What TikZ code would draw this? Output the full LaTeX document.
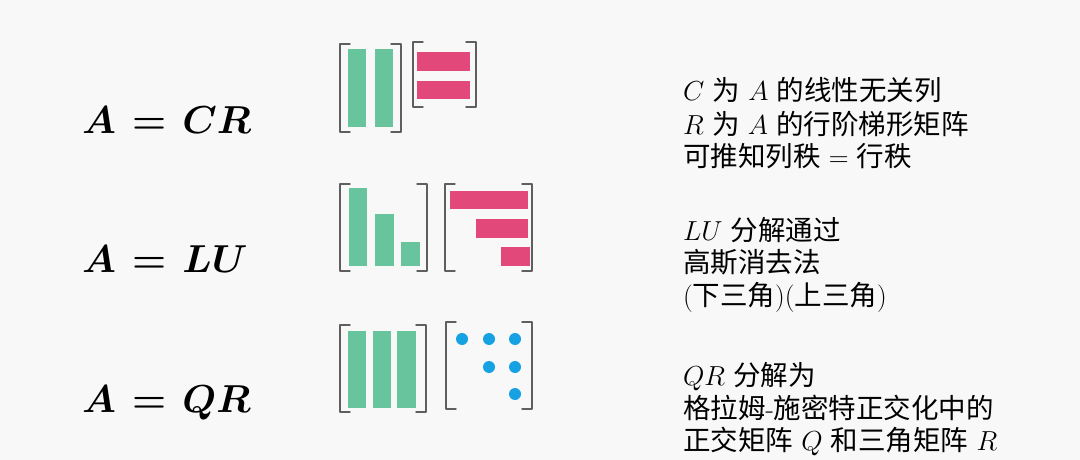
\RequirePackage{fix-cm}
\documentclass[tikz,border=0pt]{standalone}
\usepackage{fontspec}
\newfontfamily\cjk{Noto Sans CJK SC}
\definecolor{bggray}{RGB}{248,248,248}
\definecolor{brkgray}{RGB}{95,95,95}
\definecolor{colgreen}{RGB}{104,196,156}
\definecolor{colpink}{RGB}{226,72,122}
\definecolor{colblue}{RGB}{22,162,226}
\begin{document}
\begin{tikzpicture}[x=1pt,y=-1pt,line join=round,line cap=round]
			\tikzset{every node/.style={inner sep=0pt,outer sep=0pt},
				eqn/.style={anchor=base west,font=\fontsize{39}{44}\selectfont\boldmath},
				note/.style={anchor=base west,font=\fontsize{27.5}{33}\selectfont},
				brk/.style={draw=brkgray,line width=1.4pt}}
			\fill[bggray] (0,0) rectangle (1080,460);
			\useasboundingbox (0,0) rectangle (1080,460);
			\node[eqn] (eqcr) at (82,133) {$A\mkern1.5mu=\mkern1.5mu CR$};
			\node[eqn] (eqlu) at (82,272) {$A\mkern1.5mu=\mkern1.5mu LU$};
			\node[eqn] (eqqr) at (82,412) {$A\mkern1.5mu=\mkern1.5mu QR$};
			\foreach \l/\r/\t/\b in {340/401/44/132, 413/476/42/107, 340/427/184/271, 445/532/184/271, 340/426/325/412, 446/532/322/409}
			{
				\draw[brk] (\l+10,\t)--(\l,\t)--(\l,\b)--(\l+10,\b);
				\draw[brk] (\r-10,\t)--(\r,\t)--(\r,\b)--(\r-10,\b);
			}
			\foreach \xa/\xb/\ya/\yb in {348/366/49/127, 375/393/49/127, 349/367/188/266, 375/394/214/266, 401/420/242/266, 348/366/331/408, 373/391/331/408, 397/416/331/408}
			\fill[colgreen] (\xa,\ya) rectangle (\xb,\yb);
			\foreach \xa/\xb/\ya/\yb in {417/470/52/71, 417/470/81/99, 450/528/191/209, 476/528/219/238, 501/530/247/266}
			\fill[colpink] (\xa,\ya) rectangle (\xb,\yb);
			\foreach \x/\y in {462/339, 489/339, 515/339, 489/367, 515/367, 515/394}
			\fill[colblue] (\x,\y) circle[radius=6pt];
			\node[note] (cra) at (683,101) {$C$ {\cjk 为} $A$ {\cjk 的线性无关列}};
			\node[note] (crb) at (683,134) {$R$ {\cjk 为} $A$ {\cjk 的行阶梯形矩阵}};
			\node[note] (crc) at (683,166) {{\cjk 可推知列秩} $=$ {\cjk 行秩}};
			\node[note] (lua) at (683,240) {$LU$ {\cjk 分解通过}};
			\node[note] (lub) at (683,272) {\cjk 高斯消去法};
			\node[note] (luc) at (683,305) {({\cjk 下三角})({\cjk 上三角})};
			\node[note] (qra) at (683,385) {$QR$ {\cjk 分解为}};
			\node[note] (qrb) at (683,418) {{\cjk 格拉姆}-{\cjk 施密特正交化中的}};
			\node[note] (qrc) at (683,450) {{\cjk 正交矩阵} $Q$ {\cjk 和三角矩阵} $R$};
	\end{tikzpicture}
\end{document}
